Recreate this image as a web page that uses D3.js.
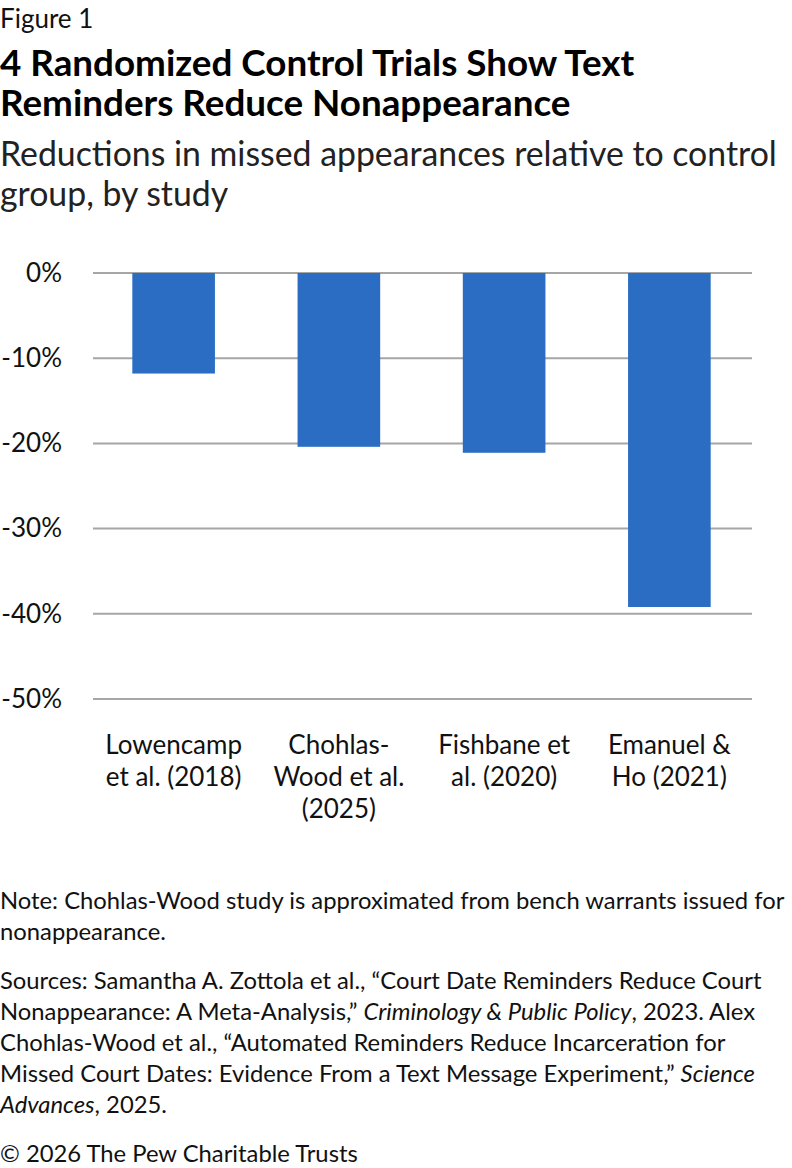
<!DOCTYPE html>
<html>
<head>
<meta charset="utf-8">
<script src="https://cdn.jsdelivr.net/npm/d3@7"></script>
<style>
  body { margin: 0; background: #fff; }
  svg { display: block; font-family: Lato, 'Noto Sans', sans-serif; }
</style>
</head>
<body>
<svg width="792" height="1168"></svg>
<script>
// chart data
const studies = ['Lowencamp et al. (2018)', 'Chohlas-Wood et al. (2025)', 'Fishbane et al. (2020)', 'Emanuel & Ho (2021)']
const studyLabelLines = [
    ['Lowencamp', 'et al. (2018)'],
    ['Chohlas-', 'Wood et al.', '(2025)'],
    ['Fishbane et', 'al. (2020)'],
    ['Emanuel &', 'Ho (2021)']
]
const reductions = [-11.8, -20.4, -21.1, -39.2]
const yTicks = [0, -10, -20, -30, -40, -50]

const svg = d3.select('svg')

// header text
svg.append('text').attr('x', 0).attr('y', 28).attr('font-size', 26).attr('fill', '#111').text('Figure 1')
const titleLines = ['4 Randomized Control Trials Show Text', 'Reminders Reduce Nonappearance']
titleLines.forEach((t, i) => {
    svg.append('text').attr('x', 0).attr('y', 76 + i * 40)
        .attr('font-size', 36.8).attr('font-weight', 700).attr('fill', '#000').text(t)
})
const subLines = ['Reductions in missed appearances relative to control', 'group, by study']
subLines.forEach((t, i) => {
    svg.append('text').attr('x', 0).attr('y', 166 + i * 40)
        .attr('font-size', 33.8).attr('fill', '#222').text(t)
})

// scales
const x = d3.scaleBand().domain(studies).range([91, 752]).paddingInner(0.5).paddingOuter(0.25)
const y = d3.scaleLinear().domain([0, -50]).range([273, 699])

// gridlines
svg.append('g')
    .selectAll('line')
    .data(yTicks)
    .join('line')
    .attr('x1', 93)
    .attr('x2', 752)
    .attr('y1', d => y(d))
    .attr('y2', d => y(d))
    .attr('stroke', '#a6a6a6')
    .attr('stroke-width', 2)

// y axis labels
const yAxis = svg.append('g')
    .attr('transform', 'translate(62,0)')
    .call(d3.axisLeft(y).tickValues(yTicks).tickFormat(d => d + '%').tickSize(0).tickPadding(0))
yAxis.select('.domain').remove()
yAxis.selectAll('text')
    .attr('font-family', 'Lato, sans-serif')
    .attr('font-size', 26)
    .attr('fill', '#111')

// bars
svg.append('g')
    .selectAll('rect')
    .data(reductions)
    .join('rect')
    .attr('x', (d, i) => x(studies[i]))
    .attr('width', x.bandwidth())
    .attr('y', y(0))
    .attr('height', d => y(d) - y(0))
    .attr('fill', '#2b6dc2')

// category labels
const cat = svg.append('g')
    .selectAll('text')
    .data(studyLabelLines)
    .join('text')
    .attr('text-anchor', 'middle')
    .attr('font-size', 26)
    .attr('fill', '#111')
    .attr('transform', (d, i) => `translate(${x(studies[i]) + x.bandwidth() / 2},754)`)
cat.selectAll('tspan')
    .data(d => d)
    .join('tspan')
    .attr('x', 0)
    .attr('y', (d, i) => i * 32)
    .text(d => d)

// note and sources
const foot = svg.append('g').attr('font-size', 23.8).attr('fill', '#111')
const note = ['Note: Chohlas-Wood study is approximated from bench warrants issued for', 'nonappearance.']
note.forEach((t, i) => foot.append('text').attr('x', 0).attr('y', 909 + i * 31).text(t))

const src = foot.append('text')
const srcLines = [
    [['Sources: Samantha A. Zottola et al., \u201cCourt Date Reminders Reduce Court', false]],
    [['Nonappearance: A Meta-Analysis,\u201d ', false], ['Criminology & Public Policy', true], [', 2023. Alex', false]],
    [['Chohlas-Wood et al., \u201cAutomated Reminders Reduce Incarceration for', false]],
    [['Missed Court Dates: Evidence From a Text Message Experiment,\u201d ', false], ['Science', true]],
    [['Advances', true], [', 2025.', false]]
]
srcLines.forEach((parts, i) => {
    parts.forEach(([t, it], j) => {
        const ts = src.append('tspan').text(t).attr('font-style', it ? 'italic' : 'normal')
        if (j === 0) ts.attr('x', 0).attr('y', 989 + i * 31)
    })
})

foot.append('text').attr('x', 0).attr('y', 1162).text('\u00a9 2026 The Pew Charitable Trusts')
</script>
</body>
</html>
